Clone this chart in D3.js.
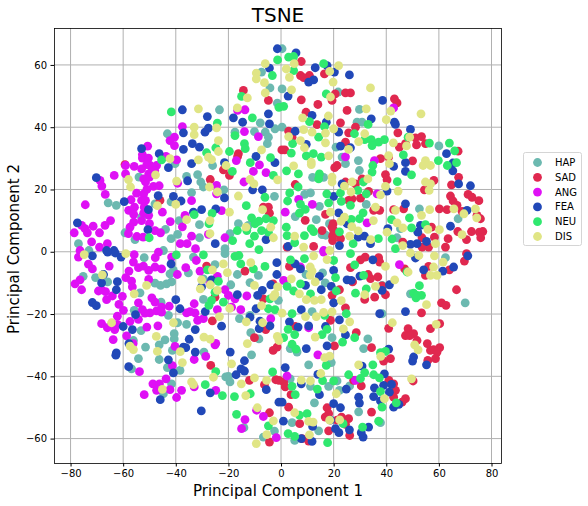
<!DOCTYPE html>
<html>
<head>
<meta charset="utf-8">
<script src="https://d3js.org/d3.v7.min.js"></script>
<style>
  body { margin: 0; background: #fff; }
  text { font-family: "DejaVu Sans", sans-serif; fill: #000; }
</style>
</head>
<body>
<div id="my_dataviz"></div>
<script>

// values, one [pc1, pc2] per point
var hap = [[-23.4,45.6],[-43.2,37.9],[-7.4,57.7],[-4.2,52.6],[-1.4,47.7],[-7.9,41.4],[-10.1,38.6],[-6,38.4],[-2.3,39.5],[-4.8,36.8],[-5.2,34.7],[-17.5,38.4],[-26,27.7],[-35.9,24.2],[-31.7,24.8],[-30.5,22.4],[-29.5,20.8],[-34,19],[-21.7,19.9],[-65.7,15.7],[-62.6,14.9],[-47.9,15.4],[-41.8,16],[-77,2.6],[-31,8.7],[-38.7,10],[-43.9,7.2],[-39.3,5.6],[-41.8,4.2],[-31,4.5],[-59.3,6.1],[-55.5,3.9],[-53,11.1],[-16.2,9],[-19.4,5.8],[-21.3,1],[-2.5,17.8],[-54,24],[-12.4,8.5],[-40.3,28.3],[-44.7,.4],[-73,.4],
  [.4,65.2],[21.7,51.3],[29.8,45.7],[28.9,41.6],[30.8,41.6],[20.9,33.6],[23.2,30.4],[24.5,28.3],[29.4,29.3],[29.8,26.1],[12,23.9],[16.2,23.9],[9,18.4],[11.2,18.9],[14.6,14.6],[32.4,15.2],[52.6,13.8],[60,34],[5.4,11.3],[13.4,10.3],[18.4,9],[67.3,10.6],[15.6,5.5],[17,5.3],[44.1,4.5],[45.4,7.4],[.4,40],[.4,52.3],
  [-52,-1.9],[-75.2,-7.9],[-70.5,-8.3],[-65.9,-9.7],[-67.5,-7.3],[-53.6,-13.2],[-47.9,-10.1],[-45.8,-10.8],[-43.5,-10.3],[-41.6,-9.7],[-42.2,-7.1],[-40.9,-6],[-35.2,-6.8],[-45.6,-16.2],[-55.8,-18.8],[-53.2,-25.3],[-56.1,-28.5],[-51.5,-30.6],[-54.2,-34.3],[-56.8,-37.6],[-46.3,-29.9],[-44.1,-28.3],[-40.6,-26.3],[-40.6,-28],[-41.3,-31.7],[-46.3,-34.6],[-43.2,-37.2],[-38.4,-38.1],[-41.6,-42.4],[-44.7,-45.6],[-35.9,-23.3],[-39.3,-22.8],[-42.8,-20.4],[-29.5,-15.3],[-25.1,-4.1],[-29.5,-8.7],[-21.3,-.6],[-19.1,-10.6],[-16.6,-7.3],[-8.6,-7.6],[-11.8,-9.9],[-15.8,-21.5],[-11.5,-26],[-8.4,-28],[-11.2,-33.1],[-29.3,-32.2],[-20,-40],[-19.4,-41.8],[-21,-40.2],[-14.1,-56.5],[-6.7,-59.5],[-2.5,-57.6],[-11.8,-20.4],[-33.3,-1.7],[-1,-15.6],
  [9.5,-7.3],[15.8,-6.8],[16.8,-10],[49.2,-13.5],[70,-16.4],[11.8,-19.2],[19.4,-27.6],[33,-28],[31.4,-31.1],[6.1,-32.2],[3.5,-31.1],[10.5,-36.3],[19.1,-35.6],[11.2,-43.2],[18.1,-43.2],[21.3,-41.5],[22.2,-44.5],[26.1,-43.1],[12.7,-48.5],[29.5,-51.4],[37.8,-54.9],[4.2,-54.9],[14.3,-57.5],[5.2,-60.6],[38.4,-19.9],[38.4,-10.8],[62.5,-1.9],[3.5,-40.8]];

var sad = [[-14.3,51.8],[-4.8,48.6],[-16.2,31.5],[-16.5,30.6],[-21.9,26.3],[-19.6,24.5],[-26.9,23.2],[-59.3,28],[-46,16.5],[-6.7,14.3],[-4.8,14.3],[-4.4,12.4],[.3,32.7],
  [7.7,61.1],[7.4,56.6],[8.6,55.9],[10.8,56.6],[16.5,57.1],[20.6,50.7],[24.5,51],[26.4,51],[19.4,48.6],[7.7,48.8],[14,47.3],[25.1,45.4],[9.5,44.8],[22.6,41.4],[13.7,40.8],[28.3,40],[25.7,38.2],[2.9,38.7],[4.2,36.8],[24.5,35.2],[1.4,32.7],[43.1,49.1],[44.1,47.8],[44.4,38.2],[45,33.6],[47.3,34.7],[51.1,36.6],[53.4,37],[51.5,34.3],[54.9,34.7],[67.3,32.3],[50,29.2],[37.8,29.9],[40.9,30.4],[21.3,27.7],[20.4,27],[39.7,24.8],[40.3,23.1],[30.8,23.4],[24.5,22.4],[28.3,21.8],[5.4,21.6],[33.3,19.4],[30.2,17.2],[27,17],[25.7,16.5],[58.1,22.9],[54.5,19.9],[64.8,21.5],[67.5,23.9],[64.4,17.9],[65.4,16.3],[71.1,18.4],[72.6,17.5],[75.2,16.4],[66.9,14.9],[60.2,13.8],[63.1,13.5],[46.6,13.8],[42.8,13.5],[35.2,13.3],[37.5,13.3],[16.9,12],[9.2,10.1],[74.5,11.7],[75.8,10.6],[68.8,13],[76.7,6.5],[75.4,6.3],[75.9,4.5],[72.4,6.5],[67.2,6.5],[70.5,3.9],[63.5,4.2],[62.5,1.5],[58.3,4.7],[57.2,7.9],[53.6,4.5],[46.3,3.1],[56.1,1.5],[53.6,1.5],[19.4,7.9],[15.6,6.8],[20,5.8],[19.6,3.6],[22.6,4.2],[12.4,1.7],[2.3,1.5],[19.6,5],[19.8,9],[20,7],
  [-13.7,-6.2],[-28.3,-4.6],[-26.1,-22.2],[-10.1,-27.6],[-5.8,-25],[-3,-31.7],[-1.5,-30.6],[-26.7,-36.5],[-12,-41.3],[-6.3,-42.7],[-2,-41.1],[-.8,-41.3],[-4.4,-51.7],[-4.4,-61.1],[-6.7,-15.1],[-3,-10.3],[-25.1,-14.6],
  [3.2,-4.7],[30.2,-2.6],[32,-1.7],[37.1,-1.9],[37.5,-3.3],[26.4,-5.1],[33.1,-7.3],[34,-8.6],[36.8,-8.1],[27.2,-9.7],[22.2,-12.2],[19.4,-14],[35.6,-14.6],[31.8,-15.3],[39.7,-13.8],[38.4,-11],[24.5,-18],[53.4,-19.6],[61,-16.4],[62.7,-17.2],[66.7,-12.2],[47,-5.5],[56.1,-4.7],[54.9,-7.6],[64,-5.8],[69.7,-3],[70.5,-.6],[18.8,-22],[5.4,-24],[28.6,-26],[40.9,-24.6],[48.3,-24.7],[50.4,-26.3],[47.3,-26.9],[48.9,-26.9],[51.7,-28.5],[56.8,-24.7],[60.3,-23.1],[55.6,-29.5],[56.8,-31.7],[60.3,-30.8],[58,-31.4],[59.3,-32.2],[58.7,-34.3],[55.8,-34.9],[34.4,-30.8],[41.6,-34.3],[39,-35.1],[20.3,-30.2],[50.2,-41.5],[1,-41.8],[1.6,-43.4],[3.8,-45.9],[30.5,-43.1],[27.6,-41.3],[41,-41.3],[42.8,-42.4],[43.5,-44.5],[42.8,-46.7],[47.3,-47.2],[46,-48.3],[2.9,-49.9],[17.5,-50.1],[18.1,-52],[16.8,-53.1],[7.1,-55.2],[34.4,-51.5],[25.7,-53.6],[23,-53.1],[24.5,-55.4],[21.3,-54.1],[18.1,-57.5],[26.1,-59],[10.5,-60.8],[8,-60]];

var ang = [[-50.7,33.9],[-52.7,31.2],[-52.7,30.1],[-50.4,30.1],[-55.8,27.4],[-63.4,24.5],[-68.8,22.9],[-68.1,21.1],[-59.1,27.7],[-59.1,25],[-53,26.6],[-49.7,27.7],[-49,26.1],[-50.3,25],[-52.2,23.4],[-51.5,22.4],[-48.5,21],[-46.3,21.2],[-66.8,18.4],[-74.4,15.1],[-54.9,18.8],[-52.2,18.6],[-57,16.7],[-53,16.5],[-51.5,16.5],[-57.9,13.3],[-55.7,14.3],[-52,14.3],[-50.3,11.7],[-52.2,12.4],[-45.1,12.7],[-56,9.5],[-57.4,7.9],[-50,9],[-58,5.8],[-54.8,4.9],[-52.4,4.7],[-47.9,6.8],[-45.8,6.1],[-42.1,9.7],[-64.8,10],[-66.9,8.5],[-69,6.1],[-71.4,8.2],[-75.8,8.5],[-74.5,7.4],[-73.6,6.1],[-78.6,6.1],[-72,3.2],[-66,2.6],[-69,1.5],[-76.4,.4],[-37.5,8],[-36.5,11.7],[-34,5],[-38.3,2.6],[-35.7,2.6],[-32.5,1],[-22.6,13.2],[-34,16.4],[-24.5,21.3],[-24.5,18.6],[-39.3,22],[-37.5,40.2],[-40.5,36.8],[-42.2,35.7],[-40.5,34.1],[-43.7,30.6],[-39.7,29.5],[-47.3,27.7],[-13.7,45.6],[-16.5,45.4],[-13.9,38.6],[-8.6,37],[-17,29.3],[-8.2,27.9],[-10.5,25.8],[-5.7,25.4],[-14.1,22.4],[-21.3,4.5],[-27.6,5.6],[-50,24],[-51,28],[-48,26],[-51,20],[-56,12],[-53,10],
  [42.8,46.2],[24.5,30.5],[35.5,29.3],[36.5,18.6],[6.7,16.8],[11.9,15.2],[1.6,12.7],[32.7,9.3],[16.2,.4],
  [-77,-1.7],[-73.2,-4],[-71.7,-5.5],[-65.3,-4.6],[-76.4,-9],[-78.3,-10.3],[-75.8,-12.2],[-69.4,-12.6],[-68.2,-12.2],[-66.7,-12.8],[-64.1,-14.2],[-66.3,-15.4],[-60.3,-14.3],[-61.6,-16.9],[-59.9,-18.8],[-56.1,-3.3],[-55.8,-.9],[-57.8,-6.2],[-59,-8.3],[-56.8,-9.4],[-56.5,-11.3],[-54.2,-5.1],[-52.3,-4.6],[-50.3,-6],[-47.9,-4.9],[-45.4,-5.5],[-47.8,-1.9],[-50.3,-8.9],[-39.4,-7.3],[-36.2,-5.1],[-54.2,-16.4],[-52.7,-18.6],[-49.1,-14.8],[-47.9,-16.2],[-45.4,-17.8],[-47.3,-19],[-49.8,-19.6],[-51.7,-19.7],[-42.5,-17.5],[-45.4,-19.4],[-57.4,-22.4],[-54.2,-21.7],[-62.2,-20.7],[-68.2,-23.1],[-66,-24.4],[-63.2,-25],[-62.2,-23.3],[-51,-24.2],[-46.8,-23.8],[-58.7,-27],[-63.8,-28.2],[-56.2,-29.5],[-33,-16.7],[-35.9,-19.6],[-32.7,-19.6],[-34.6,-19.2],[-29.5,-21.5],[-31.7,-22],[-24.2,-18.6],[-40.3,-30.4],[-25.1,-29.9],[-24.8,-29.4],[-33,-34.6],[-28.6,-33.6],[-41.3,-36.6],[-53.8,-38.5],[-48.7,-42.4],[-46.2,-42.4],[-43.7,-40.8],[-52,-45.9],[-47.3,-44.5],[-42.2,-44.3],[-39.7,-46.8],[-37.8,-44.5],[-33,-43.4],[-24.8,-44.5],[-32.2,-2.8],[-30.8,-6.2],[-24.2,-7.9],[-21.3,-12.2],[-20,-14],[-17.5,-15.1],[-18.8,-17.8],[-15.3,-18.6],[-13,-14.2],[-3.9,-21.5],[-9.3,-50.9],[-6.7,-52.9],[-13.7,-53.9],[-15,-56.8],[-1.8,-59.7],[-41.6,-1.7],[-46.6,-.1],[-27,-10.3],
  [45,-4.1],[10.5,-24.4],[14,-33.1],[2.3,-39.9],[28.3,-41.3],[16.2,-.1],[7.4,-4.9],[1,-9.2]];

var fea = [[-1.4,65.2],[-4.4,59],[-37.5,45.6],[-28,43.4],[-18.1,43],[-14.6,41.6],[-4.8,44.3],[-4.4,41.1],[-37.1,38.2],[-28.9,38.4],[-27.6,39.7],[-37.1,32.9],[-33.7,34.7],[-31,33.6],[-53,33.1],[-46.3,31.5],[-42.8,27],[-34,28.3],[-21.5,28.6],[-9.5,30.6],[-2.3,28.6],[-70.2,23.8],[-35.5,22.8],[-10.8,19.9],[-7.1,19.9],[-21.5,17.3],[-46.7,18],[-40.9,17.8],[-38,16.3],[-59.6,16.1],[-50.4,13.5],[-30.2,13.5],[-24.8,13.8],[-33.3,12.7],[-77.4,9.3],[-50.6,7.1],[-25,2.6],[-5.7,3.9],[-66.3,.4],[-63.5,.4],
  [5.7,63.9],[13,59.1],[17.5,59.8],[20.3,57.7],[26,56.8],[12.4,55.2],[10.5,54.5],[2.7,50],[38.6,48.6],[11.8,43.8],[17.2,41.6],[34.3,42.7],[43.1,41.6],[43.5,40.9],[49.2,39.3],[5.4,38.7],[21.9,38.4],[9.6,34.5],[22.6,33.9],[26.4,33.4],[62.9,31.5],[47.3,28.6],[42.8,27.4],[65.3,28.5],[65.3,26],[47.3,25.8],[67.5,21.8],[72,21.2],[23.2,21.8],[40.3,19.5],[20,17.8],[47.3,15.4],[70.7,13.3],[21.9,12.5],[64.4,8.2],[53,8.5],[52,6.3],[40.6,7.4],[55.3,3.3],[51.7,2.6],[49.2,2.4],[31.7,5],[29.3,4.7],[34,2.6],[22.2,2],[25.1,9],[2.7,1.7],
  [-71.7,-1.3],[-65.9,-.1],[-63,-.4],[-60.8,-1.7],[-41.8,-3.9],[-67.5,-7.3],[-68.2,-10],[-62.2,-9.6],[-62.6,-12.2],[-71.7,-16.3],[-70.2,-17.3],[-40,-15.4],[-38.4,-18.3],[-55.3,-20.2],[-60,-24],[-56.5,-25],[-57.8,-29.5],[-62.6,-32.5],[-62.8,-33.2],[-57.9,-36.9],[-42.8,-34.7],[-40.9,-38.9],[-34.9,-28.1],[-37.1,-30.6],[-36.2,-30.8],[-32.6,-25],[-32.6,-32.2],[-28.8,-19.2],[-22.6,-23.9],[-19.3,-32.2],[-13.9,-35],[-15.2,-37.6],[-13.9,-38.3],[-17.1,-39.5],[-5.6,-44.3],[-26.9,-45.3],[-45.9,-47.5],[-30.3,-51.1],[-16.6,-13.8],[-8.9,-14],[-7.1,-12.4],[-9.5,-18.3],[-11.8,-21],[-8.3,-24.7],[-8,-22.3],[-4.2,-23.8],[-3.9,-10.6],[-1.6,-7.3],[-1.6,-3.5],[-26.4,-9],[-30.2,-11.3],[-.8,-48.3],
  [5.4,-3.9],[7.4,-5.5],[9.3,-10.8],[14.6,-7.9],[15.3,-12.2],[19.1,-11.1],[20,-6],[20,-16.4],[34.9,-2.6],[30,-7.8],[25.1,-9],[26.7,-9.2],[38.4,-12.4],[41.2,-10.6],[51.1,-2],[54.2,-5.8],[61.5,-6.2],[65.6,-4.9],[71,-1.3],[7.7,-18.6],[3.2,-22.5],[6.5,-24.2],[10.5,-23.8],[16.9,-24],[22.2,-21.9],[24.5,-26.7],[37.5,-19.9],[47.3,-19.2],[40.9,-31.3],[50.4,-33.8],[50,-35.1],[55.3,-36.3],[17.5,-30.2],[9.6,-31.1],[1.6,-37.2],[30.8,-36.7],[14,-39.4],[7.7,-42.4],[14.6,-45.9],[24.8,-44.1],[20,-48.8],[22.6,-50.1],[.4,-48.3],[29.5,-46.7],[29.8,-48.6],[35.2,-46.5],[35.5,-43.7],[39,-42.9],[42,-42.6],[39.3,-39.2],[41.2,-45.1],[37.8,-47.9],[42.8,-49.9],[44.8,-49],[.9,-54.4],[18.8,-54.1],[12,-56.1],[20.7,-56.8],[22,-58.1],[26,-57.2],[30.5,-58.1],[31.2,-59.5],[33.3,-56.3],[11.8,-60.9],[7.7,-60]];

var neu = [[-41.7,44.9],[-1.3,61.6],[-3.3,56.6],[-15,49.9],[-10.9,43],[-24.2,41.3],[-17.5,37.3],[-13.9,34.7],[-13.6,33.1],[-24.8,33.4],[-28.3,31.8],[-19.6,32.2],[-45.4,29.5],[-11.7,28.6],[-4,30.2],[-18.5,25.8],[-2.9,24.5],[-6.1,17.5],[-13.2,14.8],[-33,11.9],[-26.2,12.3],[-11.2,10.9],[-8.4,9.8],[-5.7,10.6],[-2.9,10],[-9.9,9],[-16.6,6.8],[-13,6.8],[-7.4,6.8],[-4.8,6.3],[-10.1,5],[-18.4,3.6],[-11.9,2.6],[-8.4,.7],[-50.1,4.5],[-27.4,9],[-.8,46.4],
  [2.9,62.5],[4.8,62.7],[16.2,60.4],[4.8,58.2],[17.2,50.7],[1,46.7],[10.8,41.8],[33.1,40.9],[16.5,40.2],[14.3,36.8],[27.9,37.9],[31.8,36],[34.3,36],[37.1,35.2],[39.3,36],[34.6,34.1],[48.3,36.8],[56.4,34.9],[64,34.9],[66,32.4],[4.4,34.7],[3.9,31.7],[9.6,30.8],[12.3,31.5],[15.3,30.4],[46.5,31.1],[34.9,27.7],[34.6,25.6],[59.8,29.3],[63.2,27.7],[66.7,28.6],[49.6,24.7],[2.1,26],[6.6,25],[14.6,25],[14.3,23.4],[44.2,22.5],[31.3,22.4],[3.3,18.9],[6.5,20.8],[17.4,18.6],[22.6,18.9],[29.2,19.7],[32.4,18.6],[2.5,16.3],[22.9,16.2],[18.1,15.7],[26.4,14.9],[7.4,15.2],[9.2,13.6],[7,12.4],[31.2,12.5],[29.8,10.6],[26.7,10.4],[42,10.3],[48.8,10.9],[54.9,8.7],[49.6,7.7],[2,7.9],[11.5,7.4],[12.4,6.5],[8.9,5.2],[2.3,5.2],[22.2,6.4],[37,4.2],[42.2,4.1],[27.4,2.6],[5.2,2.9],[43.5,1],
  [-29.5,-1],[-39.8,-1],[-17.5,-1.5],[-16,-1.2],[-15.3,-3.9],[-10.5,-5.5],[-6.1,-4.7],[-28,-5.8],[-23.8,-9.5],[-25.1,-13],[-26.4,-15.6],[-27.4,-17.2],[-21.9,-16.2],[-4.8,-18.3],[-2.3,-18.6],[-4.2,-15.1],[-24.8,-38.5],[-3.2,-38.6],[-28.8,-42.7],[-22.3,-46.2],[-17.7,-46.5],[-11.7,-45.6],[-16.9,-52.2],[-4.8,-55.9],
  [3.6,-2.6],[8.9,-2.2],[20,-2.8],[26.4,-.6],[28,-4.2],[31.4,-7.6],[20.7,-8.3],[2.3,-11.1],[4.8,-12.6],[7.4,-10.3],[11.2,-13.5],[21,-12.6],[28.3,-13.3],[32.4,-11.9],[52.6,-10.9],[50.4,-13.3],[51.7,-14],[53.4,-14],[51.3,-14.8],[47.9,-6.5],[4.2,-19.9],[16.6,-20.4],[24.8,-19.9],[2.7,-24.9],[5.2,-26.6],[15.6,-26.6],[17.5,-24.9],[28,-27.6],[23.4,-29],[1,-27.6],[4.2,-29.7],[5.7,-31.3],[37.8,-32.4],[39.7,-32],[17.2,-36.5],[34.9,-36.3],[31.8,-38.8],[25.7,-39.5],[35.2,-39.5],[37.4,-40.5],[30.2,-40.7],[20,-41.5],[15.8,-41.4],[13.8,-44.1],[4.2,-43.2],[5.4,-45.9],[37.8,-44.9],[43.8,-48.5],[38.4,-49.9],[9.9,-52],[7,-52.5],[37.1,-54.4],[23.6,-55.2],[31,-56.3],[2.7,-58.4],[5.2,-59.3],[17.7,-61.3]];

var dis = [[-31.4,45.9],[-6,60.4],[-9.4,57.4],[-9.4,55.5],[-6.3,54.3],[-6,51],[-12.8,49.4],[-16.6,46.2],[-24.5,39.8],[-33,40],[-33,37.6],[-23.8,35.7],[-23.8,32.2],[-42.2,29.9],[-31.4,29.5],[-27.6,30.4],[-26.4,29.6],[-7.4,32.7],[-20.9,27.7],[-47.7,24.7],[-58,23.2],[-57.2,20.8],[-39.7,22.7],[-27.2,20.8],[-24.2,19.2],[-16.2,17.9],[-11.8,23.2],[-10.3,21.8],[-1.3,23.1],[-47,14.8],[-40,15.2],[-35.9,10.3],[-19.6,12.7],[-27,10],[-13.3,7.9],[-7,13.5],[-3.9,7.9],[-2.9,4.5],[-27,5.8],
  [21.9,59.8],[5,60.4],[2,58.7],[18.5,57.9],[3.2,56],[19.8,54.5],[4,52],[34,52.6],[18.8,49.7],[32.4,45.9],[41.7,45.2],[18,43.6],[40,42.4],[53.2,44.3],[8.2,43],[8.6,39.2],[11.8,38.4],[16.9,38.1],[20,39.5],[31.8,37.9],[2.9,37],[48.9,36.8],[7.4,35.7],[8.9,33.4],[16.9,35],[29.5,35.4],[25.7,32.9],[42.7,35],[47.7,34],[18.1,30.8],[40.9,30.9],[11.5,28.8],[11.5,28],[4.8,27.6],[41.2,28.3],[54.9,29.3],[54,27.7],[56.8,27.7],[19.4,24],[19.4,22.4],[33,23.4],[27,22.4],[24.1,21.1],[26.6,19.2],[39.7,21],[44.5,19.5],[37.8,18.3],[54.9,22.4],[56.8,21.8],[56.3,19.7],[35.9,14.3],[43.5,13.3],[18.8,12.7],[24.1,11.1],[22.8,9.8],[56.5,13.5],[53.4,11.7],[65.7,13.8],[69.5,12.2],[73.9,13.8],[74.4,10.9],[35.1,10],[44.1,9.3],[46.3,7.7],[26.9,8.1],[29.3,6.7],[26.1,5],[34.1,3.9],[55.8,7.2],[60.2,7.1],[68.8,5.5],[40.3,6.3],[5.2,5],[58.7,2.6],[8.6,1.5],[46.3,2],[18.5,.4],
  [-74.8,-.9],[-59,-.6],[-67.9,-7.4],[-51.1,-10.8],[-55.8,-13.5],[-64.4,-22.8],[-47.4,-27.2],[-57.4,-30.3],[-56.1,-31.4],[-47,-32],[-40.9,-22.8],[-38.3,-32.1],[-37.5,-35.6],[-29.3,-27.4],[-26.9,-28.1],[-34,-41.8],[-33.3,-42.7],[-45.1,-44.2],[-25.7,-40.3],[-21.9,-3.9],[-20.4,-6.7],[-26.1,-5.8],[-30.2,-9],[-30.7,-11.9],[-26.9,-10.6],[-24.2,-12.4],[-11.5,-3.5],[-10.1,-10.8],[-7.4,-17.3],[-2.9,-14.4],[-2.3,-13.7],[-19.5,-18.2],[-23.4,-20.8],[-13.2,-22.5],[-7,-22.8],[-1.4,-27.2],[-.8,-28.5],[-12.8,-29.5],[-18.8,-36],[-10.1,-40.5],[-5.5,-41.3],[-15.1,-42.4],[-13.4,-46.2],[-9,-50.1],[-2.9,-54.3],[-5.4,-58.7],[-9.4,-61.6],[-1.3,-11.3],
  [12.4,-1.3],[17.5,-2.5],[11.1,-4.9],[11.8,-6.2],[11.1,-7.6],[13,-9.7],[3.9,-8.7],[7,-13.5],[9.6,-15.4],[12.7,-15.6],[15.3,-15.4],[22.9,-15.7],[31.8,-13.8],[35.9,-11.1],[43.2,-9],[39.7,-4.7],[48.3,-6.5],[49.2,-.4],[52.4,-1.2],[58.3,-1.3],[58,-4.9],[61.6,-3.3],[56.8,-7.6],[59.3,-7.6],[55.3,-17],[.4,-19.7],[9.3,-20.8],[13.4,-20.8],[16.2,-19.5],[19.4,-19.3],[26.1,-22.5],[42.3,-22.8],[59,-23.3],[23.7,-24.8],[13,-27.4],[50.8,-29.9],[52.1,-31.5],[37.9,-33.6],[16.6,-34],[18.5,-33.5],[29.5,-36.3],[15.1,-39.1],[7.7,-41.2],[11.2,-41.5],[21,-45.6],[49.6,-40.8],[39.3,-47.2],[5.2,-51.7],[10.5,-54.5],[12.2,-54.7],[18.5,-54.1],[22.3,-54],[10.8,-58.8]];

var labels = ["HAP", "SAD", "ANG", "FEA", "NEU", "DIS"];
var colors = ["#6cb9b0", "#e0284f", "#df10f5", "#2148b8", "#30e86f", "#e0e585"];
var groups = [hap, sad, ang, fea, neu, dis];
var xTicks = [-80, -60, -40, -20, 0, 20, 40, 60, 80];
var yTicks = [-60, -40, -20, 0, 20, 40, 60];

// set the dimensions and margins of the graph
var margin = {top: 28, right: 87, bottom: 43, left: 54},
    width = 588 - margin.left - margin.right,
    height = 506 - margin.top - margin.bottom;

var root = d3.select("#my_dataviz")
  .append("svg")
    .attr("width", 588)
    .attr("height", 506)
    .style("display", "block");

var svg = root.append("g")
    .attr("transform", "translate(" + margin.left + "," + margin.top + ")");

// scales
var x = d3.scaleLinear().domain([-86.1, 83.8]).range([0.5, width + 0.5]);
var y = d3.scaleLinear().domain([-68, 71.7]).range([height + 0.5, 0.5]);

// grid goes under the points
svg.append("g")
  .selectAll("line")
  .data(xTicks)
  .enter()
  .append("line")
    .attr("x1", function(d) { return x(d); })
    .attr("x2", function(d) { return x(d); })
    .attr("y1", 0)
    .attr("y2", height)
    .style("stroke", "#b0b0b0");

svg.append("g")
  .selectAll("line")
  .data(yTicks)
  .enter()
  .append("line")
    .attr("y1", function(d) { return y(d); })
    .attr("y2", function(d) { return y(d); })
    .attr("x1", 0)
    .attr("x2", width)
    .style("stroke", "#b0b0b0");

// one layer per class, same order as the legend
svg.selectAll("g.layer")
  .data(groups)
  .enter()
  .append("g")
    .attr("class", "layer")
    .style("fill", function(d, i) { return colors[i]; })
  .selectAll("circle")
  .data(function(d) { return d; })
  .enter()
  .append("circle")
    .attr("cx", function(d) { return x(d[0]); })
    .attr("cy", function(d) { return y(d[1]); })
    .attr("r", 4.4);

// axes
var xAxis = svg.append("g")
  .attr("transform", "translate(0," + height + ")")
  .call(d3.axisBottom(x).tickValues(xTicks).tickSize(3.5).tickPadding(3.5));
var yAxis = svg.append("g")
  .call(d3.axisLeft(y).tickValues(yTicks).tickSize(3.5).tickPadding(3.5));
svg.selectAll(".tick text")
  .style("font-family", "'DejaVu Sans', sans-serif")
  .style("font-size", "10px");
svg.selectAll(".domain").remove();

// frame
svg.append("rect")
  .attr("x", 0.5)
  .attr("y", 0.5)
  .attr("width", width)
  .attr("height", height)
  .style("fill", "none")
  .style("stroke", "#000")
  .style("stroke-width", 0.8);

// titles
root.append("text")
  .attr("x", 278)
  .attr("y", 22)
  .attr("text-anchor", "middle")
  .style("font-size", "20px")
  .text("TSNE");

root.append("text")
  .attr("x", 278)
  .attr("y", 496)
  .attr("text-anchor", "middle")
  .style("font-size", "15px")
  .text("Principal Component 1");

root.append("text")
  .attr("transform", "translate(19,249) rotate(-90)")
  .attr("text-anchor", "middle")
  .style("font-size", "15px")
  .text("Principal Component 2");

// legend
var legend = root.append("g");
legend.append("rect")
  .attr("x", 523.5)
  .attr("y", 152.5)
  .attr("width", 58)
  .attr("height", 93)
  .attr("rx", 2)
  .style("fill", "#fff")
  .style("stroke", "#d5d5d5");

legend.selectAll("circle")
  .data(labels)
  .enter()
  .append("circle")
    .attr("cx", 537.5)
    .attr("cy", function(d, i) { return 162.5 + i * 14.8; })
    .attr("r", 4.4)
    .style("fill", function(d, i) { return colors[i]; });

legend.selectAll("text")
  .data(labels)
  .enter()
  .append("text")
    .attr("x", 555)
    .attr("y", function(d, i) { return 166 + i * 14.8; })
    .style("font-size", "10px")
    .text(function(d) { return d; });

</script>
</body>
</html>
